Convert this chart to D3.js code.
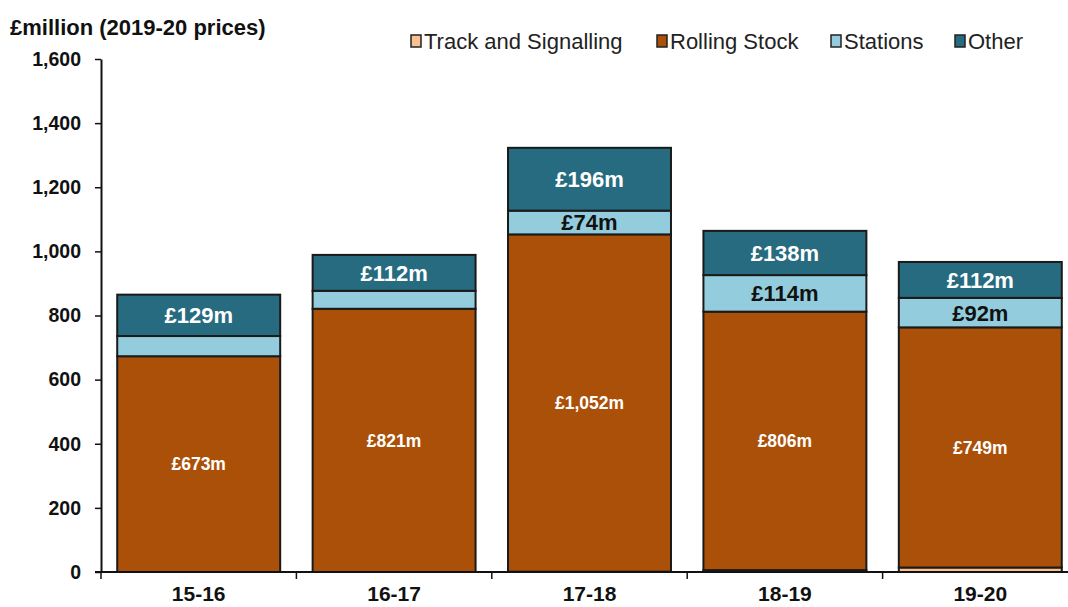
<!DOCTYPE html>
<html lang="en">
  <head>
    <meta charset="UTF-8">
    <title>Rail investment</title>
    <style>
      body { margin: 0; background: white; }
      text { font-family: "Liberation Sans", Arial, sans-serif; }
    </style>
  </head>
  <body>
    <div id="chart"></div>
    <script src="https://d3js.org/d3.v7.min.js"></script>
    <script>
      // data (£million, 2019-20 prices)
      var categories = ["15-16", "16-17", "17-18", "18-19", "19-20"];
      var track = [0, 0, 1, 6, 14];
      var rolling = [673, 821, 1052, 806, 749];
      var stations = [63, 56, 74, 114, 92];
      var other = [129, 112, 196, 138, 112];
      var totalLabels = ["£0.9bn", "£1.0bn", "£1.3bn", "£1.1bn", "£1.0bn"];
      var yTicks = [0, 200, 400, 600, 800, 1000, 1200, 1400, 1600];

      var seriesNames = ["Track and Signalling", "Rolling Stock", "Stations", "Other"];
      var colors = ["#f9c091", "#ab5008", "#93cddd", "#276b80"];

      var W = 1068, H = 607;
      var svg = d3.select("#chart").append("svg")
        .attr("width", W).attr("height", H);

      var x = d3.scaleBand()
        .domain(categories)
        .range([101, 1078])
        .paddingInner(0.166)
        .paddingOuter(0.083);

      var y = d3.scaleLinear()
        .domain([0, 1600])
        .range([572, 59]);

      // table for stacking
      var table = categories.map(function (c, i) {
        return {
          cat: c,
          "Track and Signalling": track[i],
          "Rolling Stock": rolling[i],
          "Stations": stations[i],
          "Other": other[i]
        };
      });
      var stacked = d3.stack().keys(seriesNames)(table);

      var layer = svg.selectAll("g.layer")
        .data(stacked)
        .enter().append("g")
        .attr("class", "layer")
        .attr("fill", function (d, i) { return colors[i]; });

      layer.selectAll("rect")
        .data(function (d) { return d; })
        .enter().append("rect")
        .attr("x", function (d) { return x(d.data.cat); })
        .attr("y", function (d) { return y(d[1]); })
        .attr("width", x.bandwidth())
        .attr("height", function (d) { return y(d[0]) - y(d[1]); })
        .attr("stroke", "#1a1a1a")
        .attr("stroke-width", 2);

      // segment labels
      var fmt = function (v) { return "£" + d3.format(",")(v) + "m"; };
      var labelSpec = [
        null,
        { size: 17.5, color: "white" },
        { size: 22, color: "#111", min: 70 },
        { size: 22, color: "white" }
      ];
      stacked.forEach(function (s, k) {
        var spec = labelSpec[k];
        if (!spec) return;
        svg.append("g").selectAll("text")
          .data(s.filter(function (d) { return !spec.min || (d[1] - d[0]) >= spec.min; }))
          .enter().append("text")
          .attr("x", function (d) { return x(d.data.cat) + x.bandwidth() / 2; })
          .attr("y", function (d) { return (y(d[0]) + y(d[1])) / 2; })
          .attr("dy", "0.36em")
          .attr("text-anchor", "middle")
          .attr("font-weight", "bold")
          .attr("font-size", spec.size)
          .attr("fill", spec.color)
          .text(function (d) { return fmt(d[1] - d[0]); });
      });

      // totals above bars
      var top = stacked[stacked.length - 1];
      svg.append("g").selectAll("text")
        .data(top)
        .enter().append("text")
        .attr("x", function (d) { return x(d.data.cat) + x.bandwidth() / 2; })
        .attr("y", function (d) { return y(d[1]) - 16; })
        .attr("text-anchor", "middle")
        .attr("font-weight", "bold")
        .attr("font-size", 20.5)
        .attr("fill", "#111")
        .text(function (d, i) { return totalLabels[i]; });

      // Y axis
      var yAxis = svg.append("g")
        .attr("transform", "translate(101,0)")
        .call(d3.axisLeft(y).tickValues(yTicks).tickSize(6).tickSizeOuter(0).tickPadding(14)
          .tickFormat(d3.format(",")));
      yAxis.select(".domain").attr("stroke", "#111").attr("stroke-width", 2);
      yAxis.selectAll(".tick line").attr("stroke", "#111").attr("stroke-width", 1.5);
      yAxis.selectAll("text")
        .attr("font-family", "Liberation Sans, Arial, sans-serif")
        .attr("font-size", 19.5).attr("font-weight", "bold").attr("fill", "#111");

      // X axis: ticks sit between categories
      var xAxis = svg.append("g")
        .attr("transform", "translate(0,572)");
      xAxis.append("line")
        .attr("x1", 95).attr("x2", 1078)
        .attr("stroke", "#111").attr("stroke-width", 2);
      xAxis.selectAll("line.tk")
        .data(categories)
        .enter().append("line")
        .attr("class", "tk")
        .attr("x1", function (d) { return x(d) - x.step() * x.paddingOuter(); })
        .attr("x2", function (d) { return x(d) - x.step() * x.paddingOuter(); })
        .attr("y1", 0).attr("y2", 7)
        .attr("stroke", "#111").attr("stroke-width", 1.5);
      xAxis.selectAll("text")
        .data(categories)
        .enter().append("text")
        .attr("x", function (d) { return x(d) + x.bandwidth() / 2; })
        .attr("y", 29)
        .attr("text-anchor", "middle")
        .attr("font-size", 21).attr("font-weight", "bold").attr("fill", "#111")
        .text(function (d) { return d; });

      // unit title
      svg.append("text")
        .attr("x", 10).attr("y", 35)
        .attr("font-size", 22).attr("font-weight", "bold").attr("fill", "#111")
        .text("£million (2019-20 prices)");

      // legend
      var legendX = [411, 657, 831, 955];
      var legend = svg.append("g").selectAll("g")
        .data(seriesNames)
        .enter().append("g")
        .attr("transform", function (d, i) { return "translate(" + legendX[i] + ",41)"; });
      legend.append("rect")
        .attr("x", 0).attr("y", -6).attr("width", 10).attr("height", 12)
        .attr("fill", function (d, i) { return colors[i]; })
        .attr("stroke", "#222").attr("stroke-width", 1.5);
      legend.append("text")
        .attr("x", 13).attr("dy", "0.36em")
        .attr("font-size", 22).attr("fill", "#222")
        .text(function (d) { return d; });
    </script>
  </body>
</html>
